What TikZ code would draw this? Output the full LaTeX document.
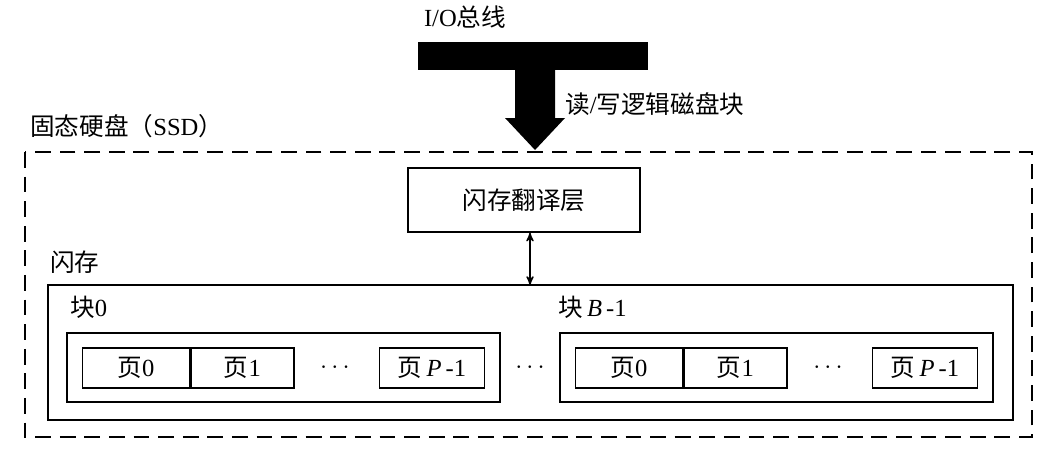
\documentclass[tikz,border=0pt]{standalone}
\usepackage{fontspec}
\setmainfont{Liberation Serif}
\newfontfamily\cjk{Noto Sans CJK SC}
\newcommand{\zh}[1]{{\cjk #1}}
\usetikzlibrary{arrows,positioning}
\tikzstyle{box} = [draw,thick,inner sep=0pt]
\tikzstyle{lbl} = [anchor=west,inner sep=0pt,font=\fontsize{14}{16}\selectfont]
\tikzstyle{page} = [draw,thick,minimum height=0.8cm,inner sep=0pt,font=\fontsize{14}{16}\selectfont]

\begin{document}
\begin{tikzpicture}[x=0.02cm,y=-0.02cm]
  \useasboundingbox (0,0) rectangle (1057,451);

  \node [lbl,anchor=center] (io) at (465,17) {I/O\zh{总线}};
  \fill (418,42) rectangle (648,70);
  \fill (515,70) -- (555,70) -- (555,118) -- (565,118) -- (535,150)
        -- (505,118) -- (515,118) -- cycle;
  \node [lbl] (rw) at (565,104) {\zh{读}/\zh{写逻辑磁盘块}};

  \node [lbl] (ssdl) at (30,126) {\zh{固态硬盘（}SSD\zh{）}};
  \draw [thick,dashed,dash pattern=on 9pt off 5pt] (25,152) rectangle (1032,437);

  \node [box,minimum width=4.64cm,minimum height=1.28cm,
         font=\fontsize{14}{16}\selectfont\cjk] (ftl) at (524,200) {闪存翻译层};
  \node [lbl] (flashl) at (50,262) {\zh{闪存}};
  \draw [thick] (48,285) rectangle (1013,420);
  \coordinate (flash) at (530,285);
  \draw [thick,<->,>=stealth'] (ftl.south -| flash) -- (flash);

  \node [lbl] (b0l) at (70,307) {\zh{块}0};
  \node [lbl] (bBl) at (558,307) {\zh{块}\,{\itshape B}\,-1};
  \draw [thick] (67,333) rectangle (500,402);
  \draw [thick] (560,333) rectangle (993,402);
  \node [lbl,anchor=center] (dots) at (530,368) {$\cdots$};

  % pages of each block
  \foreach \x/\n in {0/a,493/b} {
    \node [page,minimum width=2.14cm] (\n0) at (136+\x,368) {\zh{页}0};
    \node [page,minimum width=2.06cm,right=0pt of \n0] (\n1) {\zh{页}1};
    \node [lbl,anchor=center] (\n d) at (335+\x,368) {$\cdots$};
    \node [page,minimum width=2.1cm] (\n P) at (432+\x,368) {\zh{页}\,{\itshape P}\,-1};
  }
\end{tikzpicture}
\end{document}
